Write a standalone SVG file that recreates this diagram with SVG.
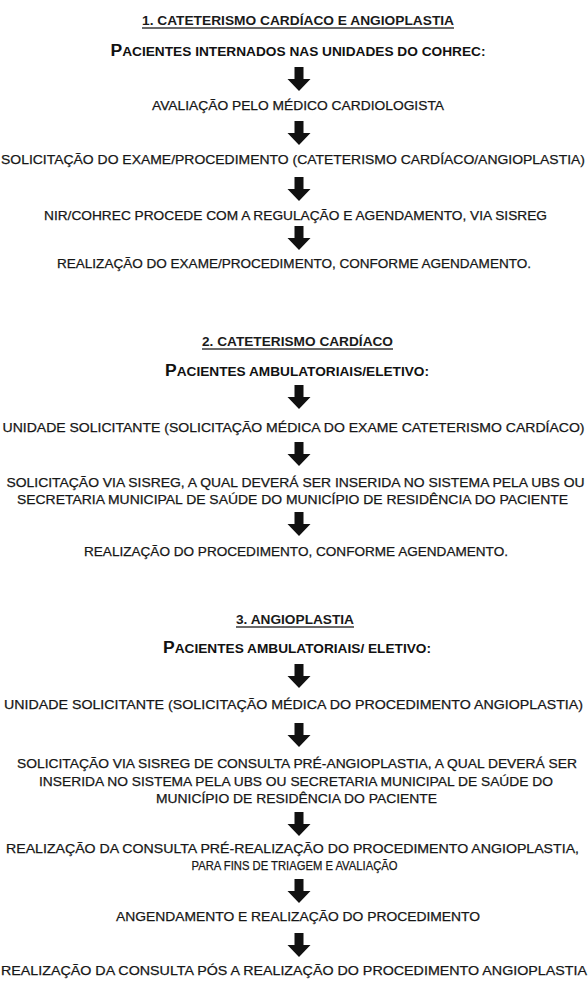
<svg xmlns="http://www.w3.org/2000/svg" width="588" height="986" viewBox="0 0 588 986">
<style>
.t{font-family:"Liberation Sans",Arial,sans-serif;font-size:13.5px;fill:#161616;stroke:#161616;stroke-width:0.25;text-anchor:middle}
.h{font-family:"Liberation Sans",Arial,sans-serif;font-size:13px;font-weight:bold;fill:#1a1a1a;text-anchor:middle}
.sc{font-family:"Liberation Sans",Arial,sans-serif;font-size:12.5px;font-weight:bold;fill:#111;text-anchor:middle}
.big{font-size:16px}
.ul{stroke:#3a3a3a;stroke-width:1.3}
.arrow{fill:#111}
</style>
<defs>
<path id="arr" d="M-4.5,0 H4.5 V12 H11.5 L0,24 L-11.5,12 H-4.5 Z"/>
</defs>
<rect width="588" height="986" fill="#fff"/>

<g id="sec1">
<g id="title1"><text class="h" x="298" y="25" textLength="312" lengthAdjust="spacingAndGlyphs">1. CATETERISMO CARDÍACO E ANGIOPLASTIA</text><line class="ul" x1="142" y1="28" x2="454" y2="28"/></g>
<g id="n1a"><text class="sc" x="298" y="56" textLength="375" lengthAdjust="spacingAndGlyphs"><tspan class="big">P</tspan>ACIENTES INTERNADOS NAS UNIDADES DO COHREC:</text></g>
<g id="n1b"><text class="t" x="298" y="110" textLength="292" lengthAdjust="spacingAndGlyphs">AVALIAÇÃO PELO MÉDICO CARDIOLOGISTA</text></g>
<g id="n1c"><text class="t" x="293" y="164" textLength="584" lengthAdjust="spacingAndGlyphs">SOLICITAÇÃO DO EXAME/PROCEDIMENTO (CATETERISMO CARDÍACO/ANGIOPLASTIA)</text></g>
<g id="n1d"><text class="t" x="295.5" y="220" textLength="503" lengthAdjust="spacingAndGlyphs">NIR/COHREC PROCEDE COM A REGULAÇÃO E AGENDAMENTO, VIA SISREG</text></g>
<g id="n1e"><text class="t" x="294" y="268" textLength="474" lengthAdjust="spacingAndGlyphs">REALIZAÇÃO DO EXAME/PROCEDIMENTO, CONFORME AGENDAMENTO.</text></g>
</g>

<g id="sec2">
<g id="title2"><text class="h" x="297.5" y="346" textLength="191" lengthAdjust="spacingAndGlyphs">2. CATETERISMO CARDÍACO</text><line class="ul" x1="202" y1="349" x2="393" y2="349"/></g>
<g id="n2a"><text class="sc" x="297" y="376" textLength="264" lengthAdjust="spacingAndGlyphs"><tspan class="big">P</tspan>ACIENTES AMBULATORIAIS/ELETIVO:</text></g>
<g id="n2b"><text class="t" x="293.5" y="432" textLength="582" lengthAdjust="spacingAndGlyphs">UNIDADE SOLICITANTE (SOLICITAÇÃO MÉDICA DO EXAME CATETERISMO CARDÍACO)</text></g>
<g id="n2c"><text class="t" x="295.5" y="487" textLength="578" lengthAdjust="spacingAndGlyphs">SOLICITAÇÃO VIA SISREG, A QUAL DEVERÁ SER INSERIDA NO SISTEMA PELA UBS OU</text><text class="t" x="292.5" y="504" textLength="551" lengthAdjust="spacingAndGlyphs">SECRETARIA MUNICIPAL DE SAÚDE DO MUNICÍPIO DE RESIDÊNCIA DO PACIENTE</text></g>
<g id="n2d"><text class="t" x="296" y="556" textLength="424" lengthAdjust="spacingAndGlyphs">REALIZAÇÃO DO PROCEDIMENTO, CONFORME AGENDAMENTO.</text></g>
</g>

<g id="sec3">
<g id="title3"><text class="h" x="295" y="624" textLength="118" lengthAdjust="spacingAndGlyphs">3. ANGIOPLASTIA</text><line class="ul" x1="236" y1="627" x2="354" y2="627"/></g>
<g id="n3a"><text class="sc" x="297" y="653" textLength="268" lengthAdjust="spacingAndGlyphs"><tspan class="big">P</tspan>ACIENTES AMBULATORIAIS/ ELETIVO:</text></g>
<g id="n3b"><text class="t" x="293.5" y="709" textLength="579" lengthAdjust="spacingAndGlyphs">UNIDADE SOLICITANTE (SOLICITAÇÃO MÉDICA DO PROCEDIMENTO ANGIOPLASTIA)</text></g>
<g id="n3c"><text class="t" x="297" y="768" textLength="560" lengthAdjust="spacingAndGlyphs">SOLICITAÇÃO VIA SISREG DE CONSULTA PRÉ-ANGIOPLASTIA, A QUAL DEVERÁ SER</text><text class="t" x="296" y="786" textLength="514" lengthAdjust="spacingAndGlyphs">INSERIDA NO SISTEMA PELA UBS OU SECRETARIA MUNICIPAL DE SAÚDE DO</text><text class="t" x="296.5" y="803" textLength="281" lengthAdjust="spacingAndGlyphs">MUNICÍPIO DE RESIDÊNCIA DO PACIENTE</text></g>
<g id="n3d"><text class="t" x="292.5" y="853" textLength="573" lengthAdjust="spacingAndGlyphs">REALIZAÇÃO DA CONSULTA PRÉ-REALIZAÇÃO DO PROCEDIMENTO ANGIOPLASTIA,</text><text class="t" x="294.5" y="870" textLength="206" lengthAdjust="spacingAndGlyphs">PARA FINS DE TRIAGEM E AVALIAÇÃO</text></g>
<g id="n3e"><text class="t" x="298" y="921" textLength="364" lengthAdjust="spacingAndGlyphs">ANGENDAMENTO E REALIZAÇÃO DO PROCEDIMENTO</text></g>
<g id="n3f"><text class="t" x="294" y="975" textLength="586" lengthAdjust="spacingAndGlyphs">REALIZAÇÃO DA CONSULTA PÓS A REALIZAÇÃO DO PROCEDIMENTO ANGIOPLASTIA</text></g>
</g>

<g id="connectors" class="arrow">
<use href="#arr" x="299" y="67"/>
<use href="#arr" x="299" y="121"/>
<use href="#arr" x="299" y="177"/>
<use href="#arr" x="299" y="226"/>
<use href="#arr" x="299" y="385"/>
<use href="#arr" x="299" y="442"/>
<use href="#arr" x="299" y="512"/>
<use href="#arr" x="299" y="664"/>
<use href="#arr" x="299" y="723"/>
<use href="#arr" x="299" y="812"/>
<use href="#arr" x="299" y="879"/>
<use href="#arr" x="299" y="933"/>
</g>
</svg>
